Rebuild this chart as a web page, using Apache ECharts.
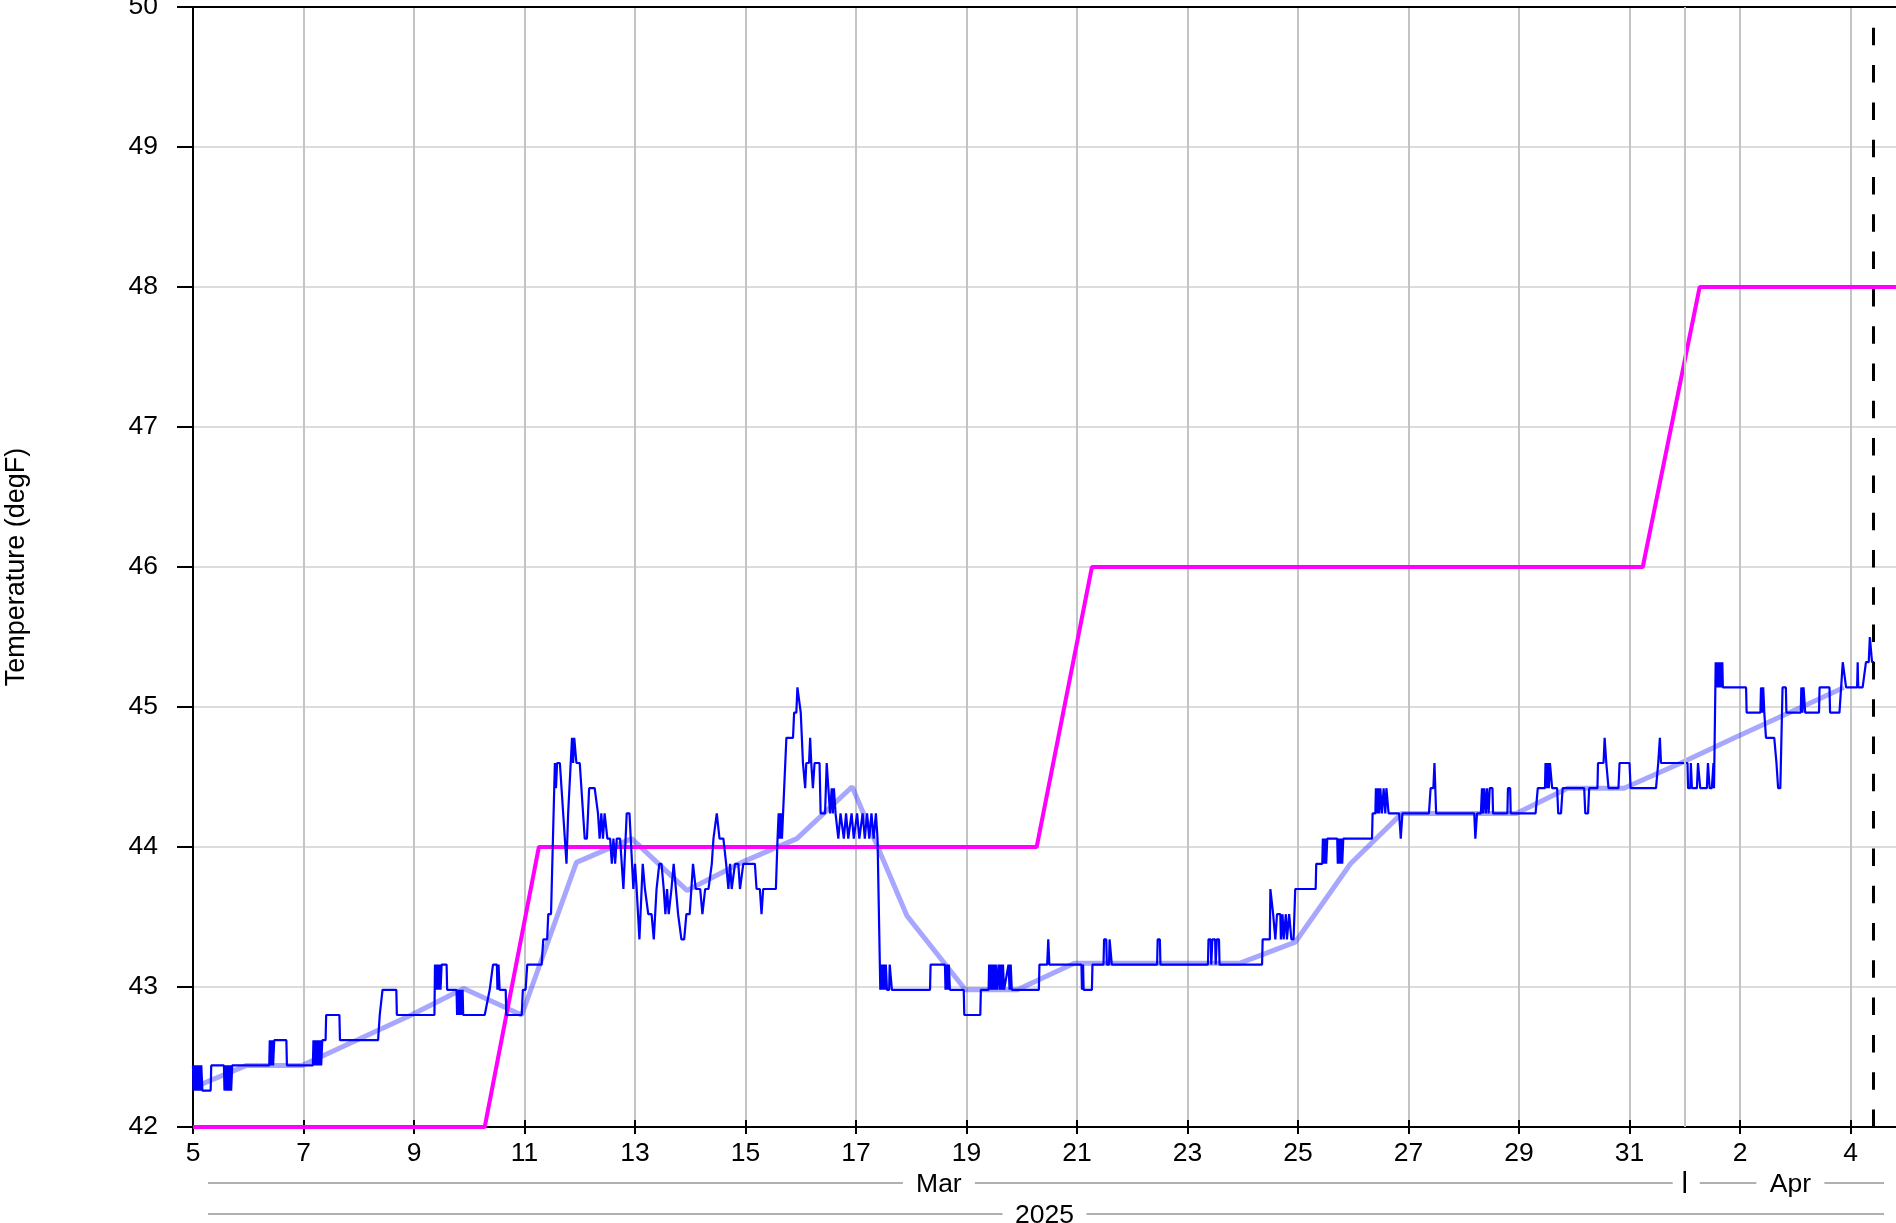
<!DOCTYPE html>
<html>
<head>
<meta charset="utf-8">
<script src="https://cdn.jsdelivr.net/npm/echarts@6/dist/echarts.min.js"></script>
<style>
  html, body { margin: 0; padding: 0; background: #fff; }
  #chart { width: 1896px; height: 1223px; }
</style>
</head>
<body>
<div id="chart"></div>
<script>
// x values are day of March 2025 (Apr 1 = 32)
const setpoint = [[5, 42], [10.28, 42], [11.26, 44], [20.27, 44], [21.27, 46], [31.24, 46], [32.27, 48], [37, 48]]

const dailyMean = [[5.00, 42.28], [5.97, 42.44], [6.97, 42.44], [7.96, 42.62], [8.95, 42.80], [9.90, 42.99],
  [10.95, 42.80], [11.94, 43.89], [12.94, 44.06], [13.94, 43.69], [14.93, 43.89], [15.93, 44.06],
  [16.93, 44.43], [17.92, 43.51], [18.98, 42.98], [19.92, 42.98], [20.95, 43.17], [21.95, 43.17],
  [22.95, 43.17], [23.95, 43.17], [24.95, 43.32], [25.95, 43.88], [26.88, 44.24], [27.88, 44.24],
  [28.95, 44.24], [29.88, 44.42], [30.90, 44.42], [31.93, 44.60], [32.90, 44.78], [33.90, 44.96], [34.88, 45.14]]

const rawTemp = [
  [5.00, 42.44], [5.01, 42.26], [5.03, 42.44], [5.05, 42.26], [5.07, 42.44], [5.09, 42.26], [5.11, 42.44], [5.13, 42.26],
  [5.15, 42.44], [5.17, 42.26], [5.32, 42.26], [5.33, 42.44], [5.56, 42.44], [5.57, 42.26], [5.59, 42.44], [5.61, 42.26],
  [5.63, 42.44], [5.65, 42.26], [5.67, 42.44], [5.69, 42.26], [5.71, 42.44],
  [6.38, 42.44], [6.39, 42.62], [6.41, 42.44], [6.43, 42.62], [6.45, 42.44], [6.47, 42.62], [6.69, 42.62], [6.70, 42.44],
  [7.17, 42.44], [7.18, 42.62], [7.20, 42.44], [7.22, 42.62], [7.24, 42.44], [7.26, 42.62], [7.28, 42.44], [7.30, 42.62],
  [7.32, 42.44], [7.34, 42.62], [7.40, 42.62], [7.41, 42.80], [7.65, 42.80], [7.66, 42.62],
  [8.35, 42.62], [8.38, 42.80], [8.43, 42.98], [8.68, 42.98], [8.69, 42.80],
  [9.37, 42.80], [9.38, 43.16], [9.40, 42.98], [9.42, 43.16], [9.44, 42.98], [9.46, 43.16], [9.48, 42.98], [9.50, 43.16],
  [9.59, 43.16], [9.60, 42.98], [9.77, 42.98], [9.78, 42.80], [9.80, 42.98], [9.82, 42.80], [9.84, 42.98], [9.86, 42.80],
  [9.88, 42.98], [9.89, 42.80],
  [10.28, 42.80], [10.37, 42.98], [10.43, 43.16], [10.50, 43.16], [10.51, 42.98], [10.53, 43.16], [10.55, 42.98],
  [10.66, 42.98], [10.67, 42.80], [10.95, 42.80],
  [10.97, 42.98], [11.02, 42.98], [11.05, 43.16], [11.31, 43.16], [11.34, 43.34], [11.41, 43.34], [11.43, 43.52],
  [11.48, 43.52], [11.55, 44.60], [11.57, 44.42], [11.59, 44.60], [11.64, 44.60], [11.76, 43.88], [11.79, 44.24],
  [11.82, 44.24], [11.86, 44.78], [11.88, 44.60], [11.90, 44.78], [11.94, 44.60], [12.00, 44.60], [12.03, 44.42],
  [12.09, 44.06], [12.13, 44.06], [12.17, 44.42], [12.27, 44.42], [12.33, 44.24], [12.36, 44.06], [12.39, 44.24],
  [12.42, 44.06], [12.45, 44.24], [12.50, 44.06], [12.55, 44.06], [12.58, 43.88], [12.61, 44.06], [12.64, 43.88],
  [12.67, 44.06], [12.73, 44.06], [12.79, 43.70], [12.85, 44.24], [12.90, 44.24], [12.97, 43.70], [13.00, 43.88],
  [13.03, 43.70], [13.08, 43.34], [13.14, 43.88], [13.18, 43.70], [13.24, 43.52], [13.30, 43.52], [13.34, 43.34],
  [13.39, 43.70], [13.44, 43.88], [13.48, 43.88], [13.52, 43.70], [13.55, 43.52], [13.58, 43.70], [13.61, 43.52],
  [13.66, 43.70], [13.70, 43.88], [13.74, 43.70], [13.78, 43.52], [13.84, 43.34], [13.89, 43.34], [13.93, 43.52],
  [13.99, 43.52], [14.05, 43.88], [14.10, 43.70], [14.18, 43.70], [14.22, 43.52], [14.27, 43.70], [14.33, 43.70],
  [14.39, 43.88], [14.42, 44.06], [14.48, 44.24], [14.53, 44.06], [14.60, 44.06], [14.65, 43.88], [14.69, 43.70],
  [14.72, 43.88], [14.75, 43.70], [14.81, 43.88], [14.87, 43.88], [14.90, 43.70], [14.93, 43.70], [14.96, 43.88],
  [15.17, 43.88], [15.20, 43.70], [15.26, 43.70], [15.29, 43.52], [15.32, 43.70], [15.55, 43.70],
  [15.58, 44.06], [15.60, 44.24], [15.62, 44.06], [15.64, 44.24], [15.66, 44.06], [15.68, 44.24], [15.74, 44.78],
  [15.86, 44.78], [15.88, 44.96], [15.92, 44.96], [15.94, 45.14], [15.97, 45.14], [16.00, 44.96], [16.04, 44.60],
  [16.08, 44.42], [16.10, 44.60], [16.15, 44.60], [16.17, 44.78], [16.19, 44.60], [16.22, 44.42], [16.25, 44.60],
  [16.34, 44.60], [16.36, 44.24], [16.44, 44.24], [16.47, 44.60], [16.50, 44.42], [16.53, 44.24], [16.56, 44.42],
  [16.58, 44.24], [16.60, 44.42], [16.63, 44.24], [16.68, 44.06], [16.72, 44.24], [16.78, 44.06], [16.82, 44.24],
  [16.86, 44.06], [16.92, 44.24], [16.96, 44.06], [17.02, 44.24], [17.06, 44.06], [17.12, 44.24], [17.16, 44.06],
  [17.20, 44.24], [17.24, 44.06], [17.28, 44.24], [17.32, 44.06], [17.36, 44.24], [17.39, 44.06],
  [17.44, 42.98], [17.46, 43.16], [17.48, 42.98], [17.50, 43.16], [17.52, 42.98], [17.54, 43.16], [17.56, 42.98],
  [17.60, 42.98], [17.61, 43.16], [17.64, 43.16], [17.65, 42.98],
  [18.34, 42.98], [18.35, 43.16], [18.61, 43.16], [18.62, 42.98], [18.64, 43.16], [18.66, 42.98], [18.68, 43.16],
  [18.70, 42.98], [18.95, 42.98], [18.96, 42.80], [19.25, 42.80], [19.26, 42.98], [19.40, 42.98], [19.41, 43.16],
  [19.43, 42.98], [19.45, 43.16], [19.47, 42.98], [19.49, 43.16], [19.51, 42.98], [19.53, 43.16], [19.55, 42.98],
  [19.58, 43.16], [19.60, 42.98], [19.62, 43.16], [19.64, 42.98], [19.66, 43.16], [19.68, 42.98], [19.76, 43.16],
  [19.78, 42.98], [19.80, 43.16], [19.82, 42.98],
  [20.31, 42.98], [20.32, 43.16], [20.46, 43.16], [20.48, 43.34], [20.50, 43.16],
  [21.08, 43.16], [21.09, 42.98], [21.11, 43.16], [21.12, 42.98], [21.27, 42.98], [21.28, 43.16],
  [21.48, 43.16], [21.49, 43.34], [21.53, 43.34], [21.54, 43.16], [21.58, 43.16], [21.59, 43.34], [21.62, 43.34],
  [21.63, 43.16], [22.45, 43.16], [22.46, 43.34], [22.50, 43.34], [22.51, 43.16],
  [23.37, 43.16], [23.38, 43.34], [23.42, 43.34], [23.43, 43.16], [23.45, 43.34], [23.50, 43.34], [23.51, 43.16],
  [23.53, 43.34], [23.57, 43.34], [23.58, 43.16],
  [24.35, 43.16], [24.36, 43.34], [24.49, 43.34], [24.50, 43.70], [24.55, 43.52], [24.58, 43.52], [24.59, 43.34],
  [24.62, 43.52], [24.68, 43.52], [24.69, 43.34], [24.72, 43.52], [24.74, 43.34], [24.78, 43.52], [24.80, 43.34],
  [24.84, 43.52], [24.88, 43.34], [24.92, 43.34], [24.95, 43.70], [25.32, 43.70], [25.33, 43.88], [25.44, 43.88],
  [25.45, 44.06], [25.47, 43.88], [25.49, 44.06], [25.51, 43.88], [25.53, 44.06], [25.71, 44.06], [25.72, 43.88],
  [25.74, 44.06], [25.76, 43.88], [25.78, 44.06], [25.80, 43.88], [25.82, 44.06],
  [26.34, 44.06], [26.35, 44.24], [26.40, 44.24], [26.41, 44.42], [26.43, 44.24], [26.45, 44.42], [26.47, 44.24],
  [26.49, 44.42], [26.52, 44.24], [26.55, 44.42], [26.58, 44.24], [26.60, 44.42], [26.63, 44.42], [26.64, 44.24],
  [26.83, 44.24], [26.86, 44.06], [26.89, 44.24], [27.37, 44.24], [27.40, 44.42], [27.45, 44.42], [27.47, 44.60],
  [27.50, 44.24], [28.19, 44.24], [28.21, 44.06], [28.24, 44.24],
  [28.31, 44.24], [28.33, 44.42], [28.35, 44.24], [28.37, 44.42], [28.40, 44.24], [28.42, 44.42], [28.45, 44.24],
  [28.47, 44.42], [28.52, 44.42], [28.53, 44.24], [28.79, 44.24], [28.80, 44.42], [28.84, 44.42], [28.85, 44.24],
  [29.30, 44.24], [29.34, 44.42], [29.47, 44.42], [29.48, 44.60], [29.50, 44.42], [29.52, 44.60], [29.54, 44.42],
  [29.56, 44.60], [29.58, 44.60], [29.60, 44.42], [29.69, 44.42], [29.71, 44.24], [29.76, 44.24], [29.79, 44.42],
  [30.18, 44.42], [30.20, 44.24], [30.25, 44.24], [30.27, 44.42], [30.42, 44.42], [30.43, 44.60], [30.53, 44.60],
  [30.55, 44.78], [30.58, 44.60], [30.62, 44.42], [30.80, 44.42], [30.82, 44.60], [31.00, 44.60], [31.02, 44.42],
  [31.48, 44.42], [31.52, 44.60], [31.55, 44.78], [31.57, 44.60],
  [32.05, 44.60], [32.06, 44.42], [32.10, 44.42], [32.11, 44.60], [32.13, 44.42], [32.22, 44.42], [32.24, 44.60],
  [32.27, 44.60], [32.28, 44.42], [32.40, 44.42], [32.42, 44.60], [32.45, 44.42], [32.49, 44.42], [32.52, 44.60],
  [32.53, 44.42], [32.56, 45.32], [32.58, 45.14], [32.60, 45.32], [32.62, 45.14], [32.64, 45.32], [32.66, 45.14],
  [32.68, 45.32], [32.69, 45.14], [33.11, 45.14], [33.12, 44.96], [33.37, 44.96], [33.38, 45.14], [33.40, 44.96],
  [33.42, 45.14], [33.44, 44.96], [33.47, 44.78], [33.62, 44.78], [33.66, 44.60], [33.69, 44.42], [33.73, 44.42],
  [33.77, 45.14], [33.83, 45.14], [33.84, 44.96], [34.10, 44.96], [34.11, 45.14], [34.13, 44.96], [34.15, 45.14],
  [34.18, 44.96], [34.43, 44.96], [34.44, 45.14], [34.62, 45.14], [34.63, 44.96], [34.80, 44.96], [34.86, 45.32],
  [34.89, 45.32], [34.92, 45.14], [35.12, 45.14], [35.13, 45.32], [35.14, 45.14], [35.22, 45.14], [35.28, 45.32],
  [35.33, 45.32], [35.35, 45.50], [35.38, 45.50], [35.39, 45.32], [35.43, 45.32]
]

const monthStarts = [32]
const nowDay = 35.42
const monthBands = [{ label: 'Mar', from: 5, to: 32 }, { label: 'Apr', from: 32, to: null }]
const yearBand = { label: '2025', from: 5, to: null }

const FONT = 'Liberation Sans, Arial, sans-serif'
const FS = 26.5
const chart = echarts.init(document.getElementById('chart'))

const xRange = { type: 'value', min: 5, max: 37, interval: 2 }

chart.setOption({
  animation: false,
  backgroundColor: '#fff',
  textStyle: { fontFamily: FONT },
  grid: {
    left: 193, top: 7, bottom: 96, right: -65, outerBoundsMode: 'none', containLabel: false
  },
  xAxis: [
    {
      ...xRange,
      axisLine: { lineStyle: { color: '#000', width: 2 } },
      axisTick: { length: 7, lineStyle: { color: '#000', width: 2 } },
      axisLabel: {
        fontSize: FS, color: '#000', margin: 13, fontFamily: FONT,
        formatter: v => (v > 31 ? v - 31 : v)
      },
      splitLine: { show: true, lineStyle: { color: '#c4c4c4', width: 2 } }
    },
    {
      // top frame line
      ...xRange, position: 'top',
      axisLine: { show: true, lineStyle: { color: '#000', width: 2 } },
      axisTick: { show: false }, axisLabel: { show: false }, splitLine: { show: false }
    },
    {
      // inner half of the x ticks
      ...xRange, position: 'bottom',
      axisLine: { show: false },
      axisTick: { show: true, inside: true, length: 7, lineStyle: { color: '#000', width: 2 } },
      axisLabel: { show: false }, splitLine: { show: false }
    }
  ],
  yAxis: {
    type: 'value', min: 42, max: 50, interval: 1,
    name: 'Temperature (degF)', nameLocation: 'middle', nameGap: 163,
    nameTextStyle: { fontSize: 27, color: '#000', fontFamily: FONT },
    axisLine: { show: true, lineStyle: { color: '#000', width: 2 } },
    axisTick: { show: true, length: 16, lineStyle: { color: '#000', width: 2 } },
    axisLabel: { fontSize: FS, color: '#000', margin: 35, fontFamily: FONT },
    splitLine: { lineStyle: { color: '#dcdcdc', width: 2 } }
  },
  series: [
    {
      name: 'mean', type: 'line', data: dailyMean, showSymbol: false, z: 2,
      lineStyle: { color: 'rgba(60,60,255,0.45)', width: 5 },
      markLine: {
        silent: true, symbol: 'none', label: { show: false },
        lineStyle: { color: '#c4c4c4', width: 2, type: 'solid' },
        data: monthStarts.map(d => ({ xAxis: d }))
      }
    },
    {
      name: 'setpoint', type: 'line', data: setpoint, showSymbol: false, z: 3,
      lineStyle: { color: '#ff00ff', width: 4 }
    },
    {
      name: 'temp', type: 'line', data: rawTemp, showSymbol: false, z: 4,
      lineStyle: { color: '#0000ff', width: 2.2 },
      markLine: {
        silent: true, symbol: 'none', label: { show: false },
        lineStyle: { color: '#000', width: 3, type: [17.5, 19.8] },
        data: [{ xAxis: nowDay }]
      }
    }
  ]
})

// month / year rows under the axis
function drawBands () {
  const px = v => chart.convertToPixel({ xAxisIndex: 0 }, v)
  const base = chart.convertToPixel({ yAxisIndex: 0 }, 42)
  const edge = chart.getWidth()
  const elements = []
  const row = (band, y, half) => {
    const xa = px(band.from)
    const xb = band.to == null ? edge : px(band.to)
    const c = (xa + xb) / 2
    const line = (x1, x2) => elements.push({
      type: 'line', shape: { x1, y1: y - 2, x2, y2: y - 2 },
      style: { stroke: '#b0b0b0', lineWidth: 2 }, silent: true
    })
    line(xa + 15, c - half - 14)
    line(c + half + 14, xb - 12)
    elements.push({
      type: 'text', x: c, y,
      style: { text: band.label, fill: '#000', font: FS + 'px ' + FONT, align: 'center', verticalAlign: 'middle' },
      silent: true
    })
  }
  monthBands.forEach(b => row(b, base + 58, b.label === 'Mar' ? 22 : 20))
  monthStarts.forEach(d => elements.push({
    type: 'line', shape: { x1: px(d), y1: base + 44, x2: px(d), y2: base + 66 },
    style: { stroke: '#000', lineWidth: 2.5 }, silent: true
  }))
  row(yearBand, base + 89, 28)
  chart.setOption({ graphic: { elements } })
}
drawBands()
</script>
</body>
</html>
